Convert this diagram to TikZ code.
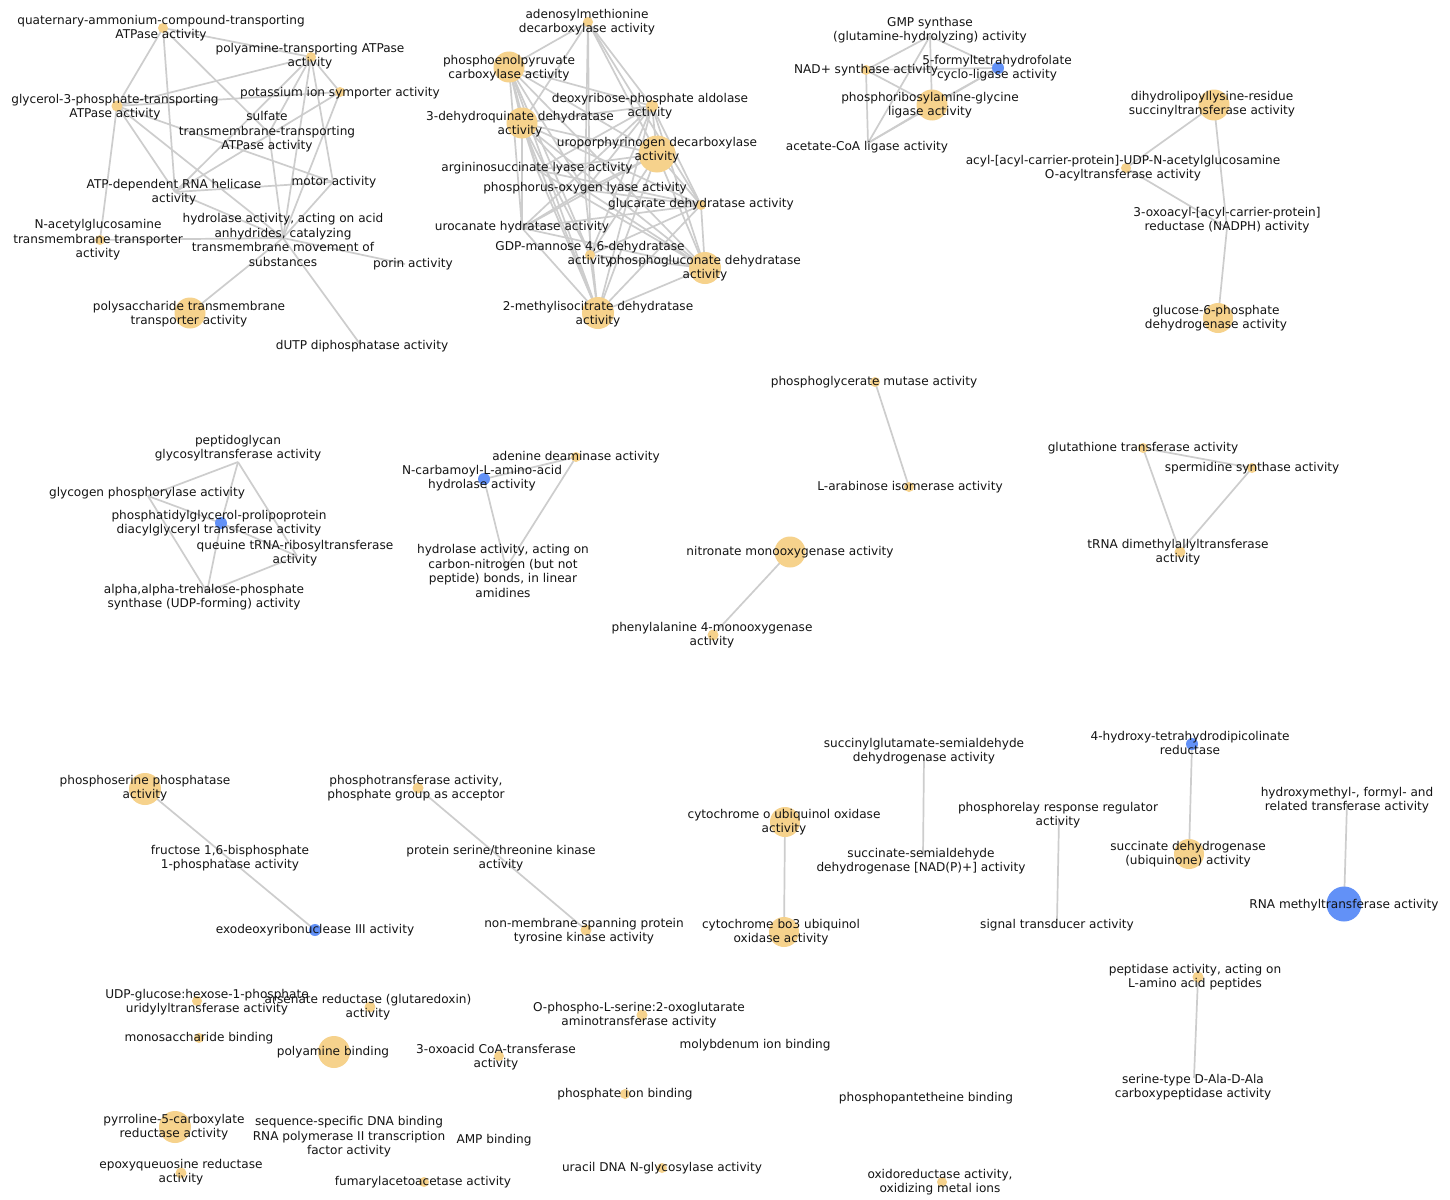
\documentclass[tikz,border=0pt]{standalone}
\usepackage{fontspec}
\setmainfont{DejaVu Sans}
\definecolor{nY}{RGB}{246,210,140}
\definecolor{nB}{RGB}{98,145,247}
\definecolor{eG}{RGB}{205,205,205}
\definecolor{tx}{RGB}{20,20,20}
\begin{document}
\begin{tikzpicture}[x=1pt,y=-1pt,
 lab/.style={font=\fontsize{12.1}{14.5}\selectfont, align=center, inner sep=0pt, text=tx},
 ydot/.style={circle,fill=nY,inner sep=0pt,minimum size=#1},
 bdot/.style={circle,fill=nB,inner sep=0pt,minimum size=#1},
 lnk/.style={draw=eG,line width=1.7pt}]
\fill[white] (0,0) rectangle (1450,1199);
\useasboundingbox (0,0) rectangle (1450,1199);
% ---------- coordinates (node centres) ----------
% top-left cluster
\coordinate (Q) at (163,28);
\coordinate (P) at (311,57);
\coordinate (K) at (340,92);
\coordinate (G) at (117,106);
\coordinate (S) at (269,133);
\coordinate (A) at (175,192);
\coordinate (M) at (333,182);
\coordinate (N) at (100,240);
\coordinate (H) at (283,238);
\coordinate (por) at (405,264);
\coordinate (Po) at (190,313);
\coordinate (dU) at (360,344);
% top-middle cluster
\coordinate (Ad) at (588,22);
\coordinate (Pe) at (509,67);
\coordinate (De) at (652,106);
\coordinate (Dq) at (522,123);
\coordinate (U) at (657,154);
\coordinate (Ar) at (537,170);
\coordinate (Ph) at (585,190);
\coordinate (Gc) at (701,205);
\coordinate (Uc) at (522,228);
\coordinate (Gd) at (590,255);
\coordinate (Pg) at (705,268);
\coordinate (Mi) at (598,313);
% top-right cluster
\coordinate (Gm) at (930,36);
\coordinate (Na) at (866,70);
\coordinate (Ft) at (998,68);
\coordinate (Pr) at (932,105);
\coordinate (Ac) at (868,143);
% right cluster
\coordinate (Dh) at (1214,105);
\coordinate (Ay) at (1126,168);
\coordinate (Ox) at (1227,228);
\coordinate (G6) at (1218,318);
% middle row
\coordinate (Pgt) at (238,462);
\coordinate (Gy) at (148,496);
\coordinate (Phg) at (221,523);
\coordinate (Que) at (297,556);
\coordinate (Tre) at (207,592);
\coordinate (Nc) at (484,479);
\coordinate (Ade) at (576,457);
\coordinate (Hcn) at (506,568);
\coordinate (Pgm) at (875,382);
\coordinate (La) at (909,487);
\coordinate (Ni) at (790,552);
\coordinate (Phe) at (713,635);
\coordinate (Gt) at (1143,448);
\coordinate (Sp) at (1252,468);
\coordinate (Tr) at (1180,552);
% lower part
\coordinate (Ps) at (145,789);
\coordinate (Exo) at (315,930);
\coordinate (Pt) at (418,788);
\coordinate (Nm) at (586,930);
\coordinate (Sg) at (924,757);
\coordinate (Ss) at (923,855);
\coordinate (Co) at (785,822);
\coordinate (Cb) at (784,932);
\coordinate (Rr) at (1059,820);
\coordinate (St) at (1057,920);
\coordinate (Hy) at (1192,744);
\coordinate (Sd) at (1189,854);
\coordinate (Hm) at (1347,803);
\coordinate (Rm) at (1344,904);
\coordinate (Pp) at (1198,977);
\coordinate (Se) at (1194,1078);
% isolated
\coordinate (Ud) at (197,1001);
\coordinate (As) at (370,1007);
\coordinate (Mo) at (199,1038);
\coordinate (Pb) at (334,1052);
\coordinate (Os) at (642,1015);
\coordinate (Oa) at (499,1056);
\coordinate (Pi) at (625,1094);
\coordinate (Py) at (175,1127);
\coordinate (Ep) at (181,1173);
\coordinate (Fu) at (424,1182);
\coordinate (Ur) at (662,1168);
\coordinate (Or) at (942,1182);
% ---------- connectors ----------
\foreach \a/\b in {Q/P,Q/G,Q/A,Q/S,P/G,P/K,P/A,P/S,P/H,P/M,K/G,K/A,K/H,G/N,G/A,G/H,G/M,
  A/M,A/H,H/N,H/por,H/Po,H/dU,H/M,H/S}
  {\draw[lnk] (\a) -- (\b);}
\foreach \a/\b in {Ad/Pe,Ad/De,Ad/U,Ad/Dq,Ad/Gd,Ad/Gc,Ad/Ph,
  Pe/Dq,Pe/De,Pe/U,Pe/Ar,Pe/Ph,Pe/Uc,Pe/Gd,Pe/Mi,Pe/Pg,
  Dq/De,Dq/U,Dq/Ar,Dq/Ph,Dq/Uc,Dq/Gd,Dq/Mi,Dq/Pg,Dq/Gc,
  De/U,De/Ar,De/Ph,De/Uc,De/Gc,De/Pg,De/Mi,De/Gd,
  U/Ar,U/Ph,U/Gc,U/Pg,U/Mi,U/Uc,U/Gd,
  Ar/Mi,Ar/Pg,Ar/Gc,Ph/Mi,Ph/Pg,Ph/Gc,Ph/Uc,
  Gc/Pg,Gc/Mi,Gc/Uc,Gc/Gd,Uc/Pg,Uc/Mi,Gd/Pg,Gd/Mi,Pg/Mi}
  {\draw[lnk] (\a) -- (\b);}
\foreach \a/\b in {Gm/Na,Gm/Ft,Gm/Pr,Gm/Ac,Na/Ft,Na/Pr,Na/Ac,Pr/Ft,Pr/Ac,Ft/Ac,
  Dh/Ay,Dh/Ox,Ay/Ox,Ox/G6,
  Gy/Pgt,Pgt/Phg,Pgt/Que,Gy/Phg,Phg/Que,Gy/Tre,Phg/Tre,Que/Tre,
  Nc/Ade,Nc/Hcn,Ade/Hcn,Pgm/La,Ni/Phe,Gt/Sp,Gt/Tr,Sp/Tr,
  Ps/Exo,Pt/Nm,Sg/Ss,Co/Cb,Rr/St,Hy/Sd,Hm/Rm,Pp/Se}
  {\draw[lnk] (\a) -- (\b);}
% ---------- dots ----------
\node[ydot=10] (QD) at (Q) {};
\node[ydot=10] (PD) at (P) {};
\node[ydot=10] (KD) at (K) {};
\node[ydot=11] (GD) at (G) {};
\node[ydot=10] (ND) at (N) {};
\node[ydot=31] (PoD) at (Po) {};
\node[ydot=10] (AdD) at (Ad) {};
\node[ydot=31] (PeD) at (Pe) {};
\node[ydot=12] (DeD) at (De) {};
\node[ydot=31] (DqD) at (Dq) {};
\node[ydot=37] (UD) at (U) {};
\node[ydot=10] (GcD) at (Gc) {};
\node[ydot=10] (GdD) at (Gd) {};
\node[ydot=32] (PgD) at (Pg) {};
\node[ydot=32] (MiD) at (Mi) {};
\node[ydot=10] (NaD) at (Na) {};
\node[bdot=12] (FtD) at (Ft) {};
\node[ydot=31] (PrD) at (Pr) {};
\node[ydot=31] (DhD) at (Dh) {};
\node[ydot=10] (AyD) at (Ay) {};
\node[ydot=30] (G6D) at (G6) {};
\node[bdot=12] (PhgD) at (Phg) {};
\node[bdot=12] (NcD) at (Nc) {};
\node[ydot=10] (AdeD) at (Ade) {};
\node[ydot=10] (PgmD) at (Pgm) {};
\node[ydot=10] (LaD) at (La) {};
\node[ydot=31] (NiD) at (Ni) {};
\node[ydot=11] (PheD) at (Phe) {};
\node[ydot=10] (GtD) at (Gt) {};
\node[ydot=10] (SpD) at (Sp) {};
\node[ydot=11] (TrD) at (Tr) {};
\node[ydot=32] (PsD) at (Ps) {};
\node[bdot=12] (ExoD) at (Exo) {};
\node[ydot=11] (PtD) at (Pt) {};
\node[ydot=11] (NmD) at (Nm) {};
\node[ydot=30] (CoD) at (Co) {};
\node[ydot=30] (CbD) at (Cb) {};
\node[bdot=12] (HyD) at (Hy) {};
\node[ydot=30] (SdD) at (Sd) {};
\node[bdot=35] (RmD) at (Rm) {};
\node[ydot=11] (PpD) at (Pp) {};
\node[ydot=10] (UdD) at (Ud) {};
\node[ydot=11] (AsD) at (As) {};
\node[ydot=10] (MoD) at (Mo) {};
\node[ydot=32] (PbD) at (Pb) {};
\node[ydot=11] (OsD) at (Os) {};
\node[ydot=10] (OaD) at (Oa) {};
\node[ydot=10] (PiD) at (Pi) {};
\node[ydot=32] (PyD) at (Py) {};
\node[ydot=11] (EpD) at (Ep) {};
\node[ydot=10] (FuD) at (Fu) {};
\node[ydot=10] (UrD) at (Ur) {};
\node[ydot=10] (OrD) at (Or) {};
% ---------- labels ----------
\node[lab] (QL) at (161,28) {quaternary-ammonium-compound-transporting\\ATPase activity};
\node[lab] (PL) at (310,56) {polyamine-transporting ATPase\\activity};
\node[lab] (KL) at (340,93) {potassium ion symporter activity};
\node[lab] (GL) at (115,107) {glycerol-3-phosphate-transporting\\ATPase activity};
\node[lab] (SL) at (267,132) {sulfate\\transmembrane-transporting\\ATPase activity};
\node[lab] (AL) at (174,192) {ATP-dependent RNA helicase\\activity};
\node[lab] (ML) at (334,182) {motor activity};
\node[lab] (NL) at (98,240) {N-acetylglucosamine\\transmembrane transporter\\activity};
\node[lab] (HL) at (283,240) {hydrolase activity, acting on acid\\anhydrides, catalyzing\\transmembrane movement of\\substances};
\node[lab] (PoL) at (189,314) {polysaccharide transmembrane\\transporter activity};
\node[lab] (porL) at (413,264) {porin activity};
\node[lab] (dUL) at (362,346) {dUTP diphosphatase activity};
\node[lab] (AdL) at (587,22) {adenosylmethionine\\decarboxylase activity};
\node[lab] (PeL) at (509,68) {phosphoenolpyruvate\\carboxylase activity};
\node[lab] (DeL) at (650,106) {deoxyribose-phosphate aldolase\\activity};
\node[lab] (DqL) at (520,124) {3-dehydroquinate dehydratase\\activity};
\node[lab] (UL) at (657,150) {uroporphyrinogen decarboxylase\\activity};
\node[lab] (ArL) at (537,168) {argininosuccinate lyase activity};
\node[lab] (PhL) at (585,188) {phosphorus-oxygen lyase activity};
\node[lab] (GcL) at (701,204) {glucarate dehydratase activity};
\node[lab] (UcL) at (522,227) {urocanate hydratase activity};
\node[lab] (GdL) at (590,254) {GDP-mannose 4,6-dehydratase\\activity};
\node[lab] (PgL) at (705,268) {phosphogluconate dehydratase\\activity};
\node[lab] (MiL) at (598,314) {2-methylisocitrate dehydratase\\activity};
\node[lab] (GmL) at (930,30) {GMP synthase\\(glutamine-hydrolyzing) activity};
\node[lab] (NaL) at (866,70) {NAD+ synthase activity};
\node[lab] (FtL) at (997,68) {5-formyltetrahydrofolate\\cyclo-ligase activity};
\node[lab] (PrL) at (930,105) {phosphoribosylamine-glycine\\ligase activity};
\node[lab] (AcL) at (867,147) {acetate-CoA ligase activity};
\node[lab] (DhL) at (1212,104) {dihydrolipoyllysine-residue\\succinyltransferase activity};
\node[lab] (AyL) at (1123,168) {acyl-[acyl-carrier-protein]-UDP-N-acetylglucosamine\\O-acyltransferase activity};
\node[lab] (OxL) at (1227,220) {3-oxoacyl-[acyl-carrier-protein]\\reductase (NADPH) activity};
\node[lab] (G6L) at (1216,318) {glucose-6-phosphate\\dehydrogenase activity};
\node[lab] (PgtL) at (238,448) {peptidoglycan\\glycosyltransferase activity};
\node[lab] (GyL) at (147,493) {glycogen phosphorylase activity};
\node[lab] (PhgL) at (219,523) {phosphatidylglycerol-prolipoprotein\\diacylglyceryl transferase activity};
\node[lab] (QueL) at (295,553) {queuine tRNA-ribosyltransferase\\activity};
\node[lab] (TreL) at (204,597) {alpha,alpha-trehalose-phosphate\\synthase (UDP-forming) activity};
\node[lab] (NcL) at (482,478) {N-carbamoyl-L-amino-acid\\hydrolase activity};
\node[lab] (AdeL) at (576,457) {adenine deaminase activity};
\node[lab] (HcnL) at (503,571) {hydrolase activity, acting on\\carbon-nitrogen (but not\\peptide) bonds, in linear\\amidines};
\node[lab] (PgmL) at (874,382) {phosphoglycerate mutase activity};
\node[lab] (LaL) at (910,487) {L-arabinose isomerase activity};
\node[lab] (NiL) at (790,552) {nitronate monooxygenase activity};
\node[lab] (PheL) at (712,635) {phenylalanine 4-monooxygenase\\activity};
\node[lab] (GtL) at (1143,448) {glutathione transferase activity};
\node[lab] (SpL) at (1252,468) {spermidine synthase activity};
\node[lab] (TrL) at (1178,552) {tRNA dimethylallyltransferase\\activity};
\node[lab] (PsL) at (145,788) {phosphoserine phosphatase\\activity};
\node[lab] (FrL) at (230,858) {fructose 1,6-bisphosphate\\1-phosphatase activity};
\node[lab] (ExoL) at (315,930) {exodeoxyribonuclease III activity};
\node[lab] (PtL) at (416,788) {phosphotransferase activity,\\phosphate group as acceptor};
\node[lab] (PkL) at (501,858) {protein serine/threonine kinase\\activity};
\node[lab] (NmL) at (584,931) {non-membrane spanning protein\\tyrosine kinase activity};
\node[lab] (SgL) at (924,751) {succinylglutamate-semialdehyde\\dehydrogenase activity};
\node[lab] (SsL) at (921,861) {succinate-semialdehyde\\dehydrogenase [NAD(P)+] activity};
\node[lab] (CoL) at (784,822) {cytochrome o ubiquinol oxidase\\activity};
\node[lab] (CbL) at (781,932) {cytochrome bo3 ubiquinol\\oxidase activity};
\node[lab] (RrL) at (1058,815) {phosphorelay response regulator\\activity};
\node[lab] (StL) at (1057,925) {signal transducer activity};
\node[lab] (HyL) at (1190,743) {4-hydroxy-tetrahydrodipicolinate\\reductase};
\node[lab] (SdL) at (1188,854) {succinate dehydrogenase\\(ubiquinone) activity};
\node[lab] (HmL) at (1347,800) {hydroxymethyl-, formyl- and\\related transferase activity};
\node[lab] (RmL) at (1344,905) {RNA methyltransferase activity};
\node[lab] (PpL) at (1195,977) {peptidase activity, acting on\\L-amino acid peptides};
\node[lab] (SeL) at (1193,1087) {serine-type D-Ala-D-Ala\\carboxypeptidase activity};
\node[lab] (UdL) at (207,1002) {UDP-glucose:hexose-1-phosphate\\uridylyltransferase activity};
\node[lab] (AsL) at (368,1007) {arsenate reductase (glutaredoxin)\\activity};
\node[lab] (MoL) at (199,1038) {monosaccharide binding};
\node[lab] (PbL) at (333,1052) {polyamine binding};
\node[lab] (OsL) at (639,1015) {O-phospho-L-serine:2-oxoglutarate\\aminotransferase activity};
\node[lab] (OaL) at (496,1057) {3-oxoacid CoA-transferase\\activity};
\node[lab] (MbL) at (755,1045) {molybdenum ion binding};
\node[lab] (PiL) at (625,1094) {phosphate ion binding};
\node[lab] (PpbL) at (926,1098) {phosphopantetheine binding};
\node[lab] (PyL) at (174,1127) {pyrroline-5-carboxylate\\reductase activity};
\node[lab] (SqL) at (349,1137) {sequence-specific DNA binding\\RNA polymerase II transcription\\factor activity};
\node[lab] (AmpL) at (494,1140) {AMP binding};
\node[lab] (EpL) at (181,1172) {epoxyqueuosine reductase\\activity};
\node[lab] (FuL) at (423,1182) {fumarylacetoacetase activity};
\node[lab] (UrL) at (662,1168) {uracil DNA N-glycosylase activity};
\node[lab] (OrL) at (940,1182) {oxidoreductase activity,\\oxidizing metal ions};
\end{tikzpicture}
\end{document}
